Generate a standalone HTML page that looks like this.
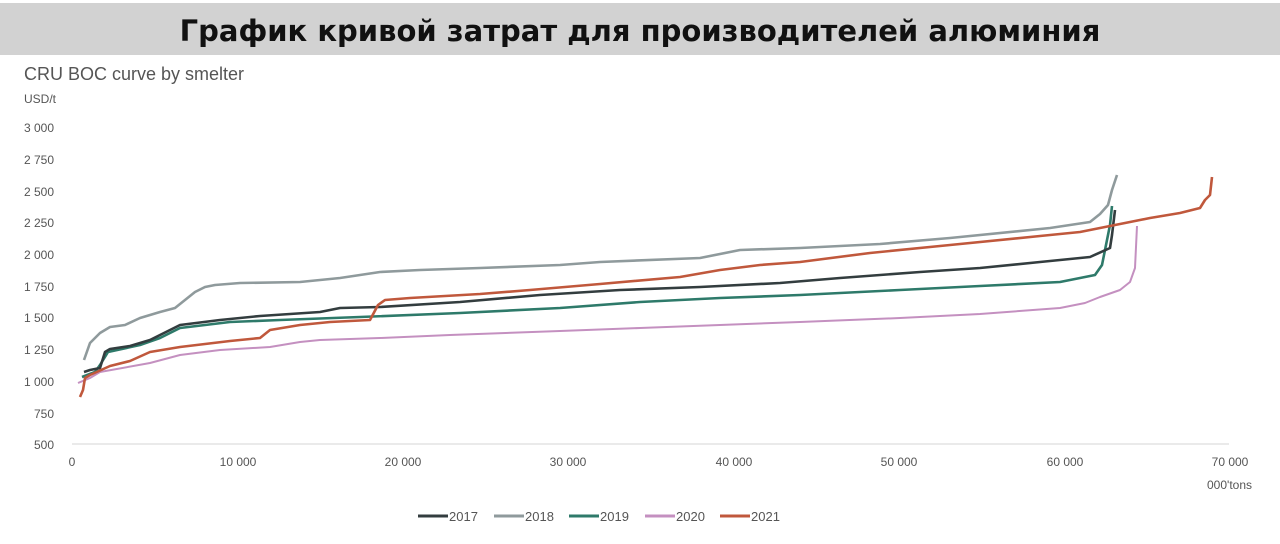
<!DOCTYPE html>
<html><head><meta charset="utf-8"><style>
body{margin:0;width:1280px;height:539px;background:#fff;overflow:hidden;font-family:"Liberation Sans","DejaVu Sans",sans-serif}
</style></head><body>
<svg width="1280" height="539" viewBox="0 0 1280 539" xmlns="http://www.w3.org/2000/svg">
<rect x="0" y="3" width="1280" height="52" fill="#d2d2d2"/>
<text x="640" y="41" text-anchor="middle" font-family="DejaVu Sans, sans-serif" font-weight="bold" font-size="29" fill="#111">График кривой затрат для производителей алюминия</text>
<text x="24" y="80" font-size="18" fill="#555">CRU BOC curve by smelter</text>
<text x="24" y="103" font-size="12" fill="#555">USD/t</text>
<g font-size="12" fill="#555">
<text x="24" y="132">3 000</text><text x="24" y="164">2 750</text><text x="24" y="196">2 500</text><text x="24" y="227">2 250</text><text x="24" y="259">2 000</text><text x="24" y="291">1 750</text><text x="24" y="322">1 500</text><text x="24" y="354">1 250</text><text x="24" y="386">1 000</text><text x="34" y="418">750</text><text x="34" y="449">500</text>
</g>
<line x1="72" y1="444" x2="1229" y2="444" stroke="#d6d6d6" stroke-width="1"/>
<g font-size="12" fill="#555" text-anchor="middle">
<text x="72" y="466">0</text><text x="238" y="466">10 000</text><text x="403" y="466">20 000</text><text x="568" y="466">30 000</text><text x="734" y="466">40 000</text><text x="899" y="466">50 000</text><text x="1065" y="466">60 000</text><text x="1230" y="466">70 000</text>
</g>
<text x="1252" y="489" font-size="12" fill="#555" text-anchor="end">000'tons</text>
<g fill="none" stroke-width="2.6" stroke-linejoin="round">
<polyline stroke="#c490c0" stroke-width="2" points="78,383 90,378 100,372 150,363 180,355 220,350 270,347 300,342 320,340 380,338 450,335 560,331 640,328 720,325 800,322 900,318 980,314 1060,308 1085,303 1100,297 1120,290 1130,282 1135,268 1137,226"/>
<polyline stroke="#2e7a6a" points="82,377 95,372 100,365 108,352 140,345 160,338 180,328 230,322 280,320 360,317 460,313 560,308 640,302 720,298 800,295 900,290 980,286 1060,282 1095,275 1102,265 1105,250 1110,225 1112,206"/>
<polyline stroke="#333d3f" points="84,372 90,370 100,368 105,352 110,349 130,346 150,340 160,335 180,325 220,320 260,316 320,312 340,308 380,307 460,302 540,295 620,290 700,287 780,283 840,278 920,272 980,268 1040,262 1090,257 1110,248 1112,235 1115,210"/>
<polyline stroke="#c0583c" points="80,397 83,390 85,378 90,375 110,366 130,361 150,352 180,347 230,341 260,338 270,330 300,325 330,322 370,320 378,305 385,300 410,298 480,294 530,290 600,284 680,277 720,270 760,265 800,262 870,253 950,245 1040,236 1080,232 1100,228 1130,222 1150,218 1180,213 1200,208 1205,200 1210,195 1212,177"/>
<polyline stroke="#8f9a9c" points="84,360 90,343 100,333 110,327 125,325 140,318 160,312 175,308 185,300 195,292 205,287 215,285 240,283 300,282 340,278 380,272 420,270 480,268 560,265 600,262 700,258 740,250 800,248 880,244 950,238 1050,228 1090,222 1100,214 1108,205 1112,190 1117,175"/>
</g>
<g font-size="13" fill="#555">
<line x1="418" y1="516" x2="448" y2="516" stroke="#333d3f" stroke-width="3"/><text x="449" y="521">2017</text>
<line x1="494" y1="516" x2="524" y2="516" stroke="#8f9a9c" stroke-width="3"/><text x="525" y="521">2018</text>
<line x1="569" y1="516" x2="599" y2="516" stroke="#2e7a6a" stroke-width="3"/><text x="600" y="521">2019</text>
<line x1="645" y1="516" x2="675" y2="516" stroke="#c490c0" stroke-width="3"/><text x="676" y="521">2020</text>
<line x1="720" y1="516" x2="750" y2="516" stroke="#c0583c" stroke-width="3"/><text x="751" y="521">2021</text>
</g>
</svg>
</body></html>
